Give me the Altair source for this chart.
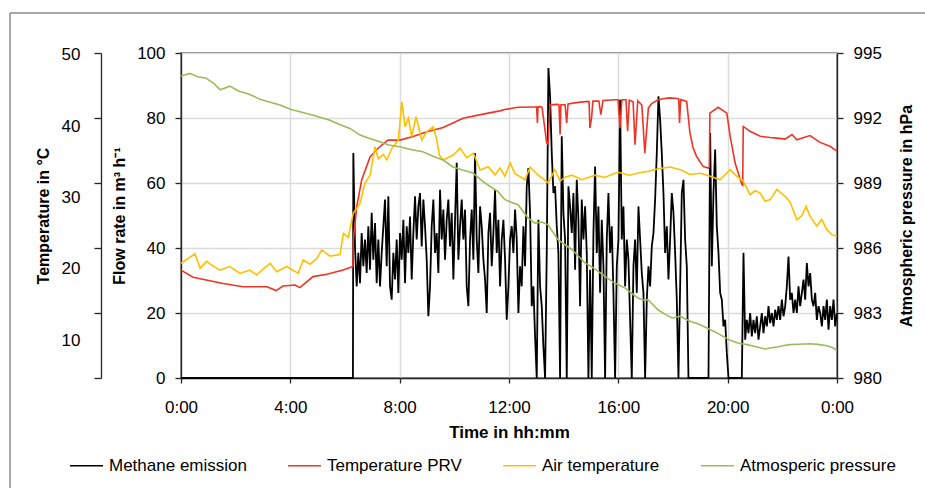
import altair as alt
import pandas as pd

FONT = "Liberation Sans"
SERIES = ["Methane emission", "Temperature PRV", "Air temperature", "Atmosperic pressure"]
COLORS = ["#000000", "#ef3324", "#ffc000", "#9bbb59"]

X_TICKS = [0, 4, 8, 12, 16, 20, 24]
FLOW_TICKS = [0, 20, 40, 60, 80, 100]
TEMP_TICKS = [0, 10, 20, 30, 40, 50]
TEMP_LABELS = [10, 20, 30, 40, 50]
PRES_TICKS = [980, 983, 986, 989, 992, 995]

# ---- Methane emission (flow rate, m3/h); zero before start, then sampled every ~3.7 min
methane_pre_t = [0.0, 6.29]
methane_pre_v = [0.0, 0.0]
methane_t0 = 6.305
methane_dt = 0.061
methane_vals = [
    69.2, 40.5, 28.2, 38.5, 29.2, 44.6, 34.4, 42.6, 32.3, 46.7,
    33.3, 50.8, 36.4, 47.7, 29.2, 42.6, 28.2, 38.5, 46.7, 54.9,
    34.4, 55.9, 28.2, 24.1, 38.5, 30.3, 42.6, 26.2, 44.6, 36.4,
    48.7, 29.2, 46.7, 38.5, 49.7, 30.3, 44.6, 55.9, 42.6, 52.8,
    56.9, 40.5, 54.9, 46.7, 36.4, 19.0, 28.2, 46.7, 54.9, 38.5,
    44.6, 32.3, 57.9, 42.6, 51.8, 36.4, 48.7, 54.9, 40.5, 50.8,
    30.3, 48.7, 66.2, 36.4, 46.7, 54.9, 42.6, 51.8, 28.2, 22.1,
    42.6, 51.8, 36.4, 69.2, 42.6, 32.3, 52.8, 46.7, 36.4, 30.3,
    20.0, 44.6, 50.8, 34.4, 44.6, 57.9, 38.5, 48.7, 28.2, 42.6,
    48.7, 36.4, 17.9, 28.2, 42.6,
    46.7, 38.5, 51.8, 42.6, 20.0, 34.4, 28.2, 46.7, 34.4, 59.0,
    64.6, 50.8, 22.1, 28.2, 12.8, 0.0, 48.7, 28.2, 22.1, 9.7,
    0.0, 38.5, 95.4, 86.7, 69.2, 56.9, 59.0, 46.7, 38.5, 0.0,
    74.4, 50.8, 42.6, 0.0, 59.0, 52.8, 44.6, 56.9, 33.3, 61.0,
    48.7, 22.1, 54.9, 42.6, 52.8, 38.5, 0.0, 33.3, 0.0, 44.6,
    65.1, 38.5, 52.8, 26.2, 48.7, 34.4, 0.0, 42.6, 56.9, 38.5,
    46.7, 26.2, 0.0, 34.4, 42.6, 85.6, 42.6, 52.8, 28.2, 42.6,
    36.4, 17.9, 0.0, 34.4, 42.6, 26.2, 52.8, 42.6, 32.3, 26.2,
    0.0, 24.1, 34.4, 28.2, 40.5, 44.6, 54.9, 69.2, 86.7, 79.5,
    69.2, 56.9, 38.5, 46.7, 30.3, 42.6, 56.9, 50.8, 38.5,
    24.1, 0.0, 28.2, 56.9, 61.0, 42.6, 34.4,
    0.0, 0.0, 0.0, 0.0, 0.0, 0.0, 0.0, 0.0, 0.0, 0.0, 0.0, 0.0, 0.0,
    75.4, 34.4, 56.9, 70.3, 46.7, 38.5, 26.2, 24.1, 15.9, 17.9, 7.7,
    0.0, 0.0, 0.0, 0.0, 0.0, 0.0, 0.0, 0.0, 0.0,
    38.5, 11.8, 17.9, 13.8, 20.0, 12.8, 17.9, 13.8, 19.0, 11.8,
    15.9, 20.0, 13.8, 19.0, 15.9, 22.1, 16.9, 20.0, 15.9, 21.0,
    17.9, 22.1, 17.9, 24.1, 19.0, 22.1, 28.2, 37.4, 24.1, 26.2,
    20.0, 24.1, 20.0, 28.2, 22.1, 26.2, 30.3, 24.1, 35.4, 28.2,
    32.3, 24.1, 22.1, 26.2, 17.9, 22.1, 20.0, 15.9, 22.1, 17.9,
    24.1, 14.9, 22.1, 17.9, 24.1, 15.9, 20.0,
]

# ---- Temperature PRV (deg C)
prv_t = [0.00, 0.44, 1.54, 2.27, 3.15, 3.48, 3.73, 4.17, 4.35, 4.83, 5.34, 5.93, 6.29,
         6.305, 6.43, 6.61, 6.92, 7.21, 7.57, 8.01, 8.49, 9.00, 9.59, 10.32, 11.05, 11.67,
         11.85, 12.33, 12.95, 13.01, 13.04, 13.06, 13.14, 13.21, 13.38, 13.43, 13.50, 13.79,
         13.83, 13.87, 13.90, 14.05, 14.11, 14.16, 14.53, 14.89, 14.93, 14.96, 15.02, 15.07,
         15.29, 15.36, 15.44, 15.88, 15.99, 16.06, 16.13, 16.28, 16.34, 16.40, 16.54, 16.61,
         16.71, 16.86, 16.97, 17.10, 17.23, 17.46, 17.70, 17.89, 18.14, 18.21, 18.24, 18.28,
         18.50, 18.62, 18.73, 18.86, 19.10, 19.29, 19.33, 19.35, 19.65, 19.97, 20.09, 20.27,
         20.52, 20.55, 20.57, 20.82, 21.19, 21.55, 21.80, 22.10, 22.35, 22.53, 23.01, 23.38,
         23.74, 23.99]
prv_v = [16.6, 15.5, 14.55, 14.05, 14.05, 13.45, 14.15, 14.3, 13.9, 15.6, 15.95, 16.6, 17.15,
         21.25, 26.35, 30.45, 34.05, 35.35, 36.6, 36.6, 37.15, 37.9, 38.55, 39.95, 40.6, 41.1,
         41.3, 41.65, 41.7, 41.7, 39.25, 41.7, 41.75, 41.65, 36.15, 36.0, 42.05, 42.1,
         42.0, 37.45, 42.05, 42.05, 39.25, 42.15, 42.4, 42.55, 42.5, 38.45, 40.0, 42.6,
         42.6, 40.5, 42.7, 42.8, 42.8, 38.45, 42.8, 42.8, 37.95, 42.75, 42.5, 35.9,
         42.65, 42.0, 34.6, 41.55, 42.25, 42.8, 43.0, 43.1, 43.0, 42.9, 39.25, 42.85,
         42.55, 37.7, 35.5, 34.1, 32.55, 32.3, 32.4, 40.75, 41.65, 40.75, 37.2, 33.1,
         29.75, 29.65, 38.7, 37.95, 37.2, 37.0, 36.9, 36.75, 37.45, 36.65, 37.3, 36.25,
         35.65, 34.95]

# ---- Air temperature (deg C)
air_t = [0.00, 0.51, 0.70, 0.94, 1.17, 1.43, 1.79, 2.16, 2.52, 2.77, 3.00, 3.26, 3.50, 3.87,
         4.29, 4.47, 4.72, 4.97, 5.15, 5.45, 5.82, 5.94, 6.12, 6.30, 6.55, 6.73, 6.92, 7.10,
         7.22, 7.40, 7.53, 7.71, 7.95, 8.08, 8.20, 8.32, 8.44, 8.60, 8.81, 8.99, 9.23, 9.36,
         9.45, 9.60, 9.96, 10.21, 10.45, 10.70, 10.94, 11.24, 11.49, 11.67, 11.85, 12.04,
         12.22, 12.59, 12.77, 13.07, 13.44, 13.68, 13.87, 14.05, 14.30, 14.66, 15.15, 15.51,
         15.80, 16.00, 16.40, 16.73, 17.10, 17.46, 17.89, 18.30, 18.62, 19.00, 19.36, 19.72,
         20.09, 20.33, 20.57, 20.82, 21.00, 21.19, 21.37, 21.55, 21.80, 22.10, 22.28, 22.53,
         22.71, 22.87, 23.01, 23.26, 23.44, 23.62, 23.81, 23.99]
air_v = [17.65, 19.1, 16.9, 17.95, 17.25, 16.6, 17.15, 16.1, 16.6, 15.85, 16.75, 17.65, 16.35,
         17.15, 16.1, 18.15, 17.5, 18.4, 19.7, 18.75, 19.0, 22.25, 21.65, 25.35, 26.85, 29.95,
         31.25, 35.6, 33.7, 34.4, 33.55, 35.3, 36.6, 42.5, 38.65, 40.0, 37.15, 40.2, 36.6,
         37.9, 38.65, 36.6, 34.3, 33.55, 34.3, 35.35, 33.9, 34.6, 32.0, 32.5, 31.25, 32.3,
         31.05, 33.1, 31.45, 30.5, 32.45, 31.2, 30.0, 32.05, 30.3, 30.9, 31.2, 30.5, 31.2,
         30.85, 31.4, 31.65, 31.2, 31.55, 31.8, 32.2, 32.45, 32.0, 31.3, 31.5, 31.05, 30.5,
         32.05, 31.05, 30.25, 28.2, 28.8, 28.45, 27.2, 27.45, 29.0, 27.95, 27.1, 24.35,
         24.95, 26.4, 24.9, 23.35, 24.4, 22.85, 22.05, 21.8]

# ---- Atmospheric pressure (hPa)
pres_t = [0.00, 0.33, 0.60, 0.90, 1.20, 1.43, 1.79, 2.10, 2.50, 2.89, 3.20, 3.62, 4.00, 4.35,
          4.90, 5.45, 5.80, 6.18, 6.55, 6.90, 7.28, 7.60, 8.01, 8.40, 8.85, 9.20, 9.59, 9.95,
          10.30, 10.68, 11.05, 11.30, 11.60, 11.85, 12.10, 12.33, 12.70, 12.95, 13.20, 13.43,
          13.79, 14.05, 14.31, 14.78, 15.00, 15.26, 15.50, 15.77, 16.00, 16.25, 16.50, 16.72,
          16.90, 17.09, 17.45, 17.70, 17.97, 18.26, 18.62, 18.90, 19.25, 19.50, 19.72, 20.09,
          20.40, 20.71, 21.00, 21.37, 21.60, 21.81, 22.05, 22.28, 22.60, 23.01, 23.30, 23.64,
          23.85, 24.00]
pres_v = [993.94, 994.06, 993.9, 993.85, 993.6, 993.3, 993.47, 993.25, 993.1, 992.86, 992.75,
          992.6, 992.4, 992.29, 992.1, 991.9, 991.7, 991.52, 991.21, 991.05, 990.9, 990.75,
          990.67, 990.55, 990.44, 990.25, 990.06, 989.74, 989.6, 989.46, 989.06, 988.85, 988.6,
          988.23, 988.1, 988.0, 987.38, 987.15, 987.2, 987.07, 986.38, 986.15, 985.92, 985.31,
          985.15, 984.92, 984.7, 984.46, 984.3, 984.15, 983.9, 983.69, 983.6, 983.61, 983.15,
          982.95, 982.77, 982.85, 982.62, 982.5, 982.31, 982.15, 982.0, 981.74, 981.6, 981.54,
          981.45, 981.34, 981.4, 981.43, 981.5, 981.54, 981.56, 981.58, 981.55, 981.49, 981.4,
          981.26]

# ---- tables
methane_t = methane_pre_t + [round(methane_t0 + methane_dt * i, 4) for i in range(len(methane_vals))]
methane_df = pd.DataFrame({"t": methane_t, "v": methane_pre_v + methane_vals, "series": SERIES[0]})
temp_df = pd.concat([
    pd.DataFrame({"t": prv_t, "v": prv_v, "series": SERIES[1], "o": 1}),
    pd.DataFrame({"t": air_t, "v": air_v, "series": SERIES[2], "o": 2}),
])
pres_df = pd.DataFrame({"t": pres_t, "v": pres_v, "series": SERIES[3]})
label_df = pd.DataFrame({"v": TEMP_LABELS})

AX = dict(labelFont=FONT, titleFont=FONT, labelFontSize=17, titleFontSize=16,
          labelColor="#000000", titleColor="#000000", titleFontWeight="bold",
          domainColor="#262626", tickColor="#262626", domainWidth=1.3, tickWidth=1.3)

x_enc = alt.X("t:Q", scale=alt.Scale(domain=[0, 24], nice=False, zero=False),
              axis=alt.Axis(values=X_TICKS, labelExpr="(datum.value % 24) + ':00'",
                            grid=True, gridColor="#dcdcdc", gridWidth=1.5, tickSize=5,
                            labelPadding=16, titlePadding=9, title="Time in hh:mm",
                            labelFlush=False, **dict(AX, titleFontSize=17)))

color_enc = alt.Color("series:N", scale=alt.Scale(domain=SERIES, range=COLORS),
                      legend=alt.Legend(orient="none", legendX=-112, legendY=395,
                                        direction="horizontal", columns=4, title=None,
                                        symbolType="stroke", symbolSize=1089,
                                        symbolStrokeWidth=1.5, labelOffset=5,
                                        columnPadding=38, padding=0,
                                        labelFont=FONT, labelFontSize=17,
                                        labelColor="#000000"))

methane = alt.Chart(methane_df).mark_line(strokeWidth=1.8).encode(
    x=x_enc,
    y=alt.Y("v:Q", scale=alt.Scale(domain=[0, 100], nice=False),
            axis=alt.Axis(orient="left", values=FLOW_TICKS, grid=True, gridColor="#dcdcdc",
                          gridWidth=1.5, tickSize=6, labelPadding=10, titlePadding=9,
                          title="Flow rate in m³ h⁻¹", **AX)),
    color=color_enc,
)

temps = alt.Chart(temp_df).mark_line(strokeWidth=1.6).encode(
    x=x_enc,
    y=alt.Y("v:Q", scale=alt.Scale(domain=[0, 50], nice=False),
            axis=alt.Axis(orient="left", offset=80, values=TEMP_TICKS, labels=False,
                          grid=False, tickSize=7, title=None, **AX)),
    color=color_enc,
    detail="series:N",
    order="o:Q",
)

temp_labels = alt.Chart(label_df).mark_point(opacity=0).encode(
    y=alt.Y("v:Q", scale=alt.Scale(domain=[4.67, 50.28], nice=False, zero=False),
            axis=alt.Axis(orient="left", offset=80, values=TEMP_LABELS, ticks=False,
                          tickSize=0, domain=False, grid=False, labelPadding=21,
                          titlePadding=10, title="Temperature in °C", **AX)),
)

pressure = alt.Chart(pres_df).mark_line(strokeWidth=1.6).encode(
    x=x_enc,
    y=alt.Y("v:Q", scale=alt.Scale(domain=[980, 995], nice=False, zero=False),
            axis=alt.Axis(orient="right", values=PRES_TICKS, grid=False, tickSize=6,
                          labelPadding=10, titlePadding=33, titleAngle=270,
                          title="Atmospheric pressure in hPa", **AX)),
    color=color_enc,
)

frame_data = alt.Data(values=[{}])
frame_top = alt.Chart(frame_data).mark_rule(color="#8c8c8c", strokeWidth=1.5).encode(
    x=alt.value(-171), x2=alt.value(760), y=alt.value(-40))
frame_left = alt.Chart(frame_data).mark_rule(color="#8c8c8c", strokeWidth=1.5).encode(
    x=alt.value(-171), y=alt.value(-40), y2=alt.value(450))

chart = alt.layer(methane, temps, temp_labels, pressure, frame_top, frame_left).resolve_scale(
    y="independent", color="shared"
).properties(
    width=656, height=325,
    autosize=alt.AutoSizeParams(type="none"),
    padding={"left": 181, "top": 53, "right": 88, "bottom": 110},
    background="#ffffff",
).configure_view(stroke="#595959", strokeWidth=1.5)

chart.save("out.html", embed_options={"renderer": "svg", "actions": False})
